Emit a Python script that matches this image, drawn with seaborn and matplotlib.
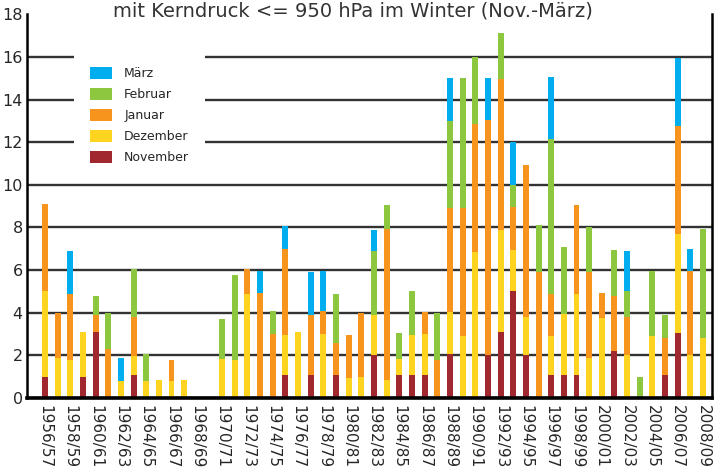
"""
Orkantiefs mit Kerndruck <= 950 hPa im Winter (Nov.-März), gestapelt nach Monat.
Erzeugt out.png (721x475).
"""

import matplotlib

matplotlib.use("Agg")

import matplotlib.pyplot as plt
import pandas as pd
import seaborn as sns
from matplotlib.patches import Patch

# --- Daten ---
SAISONS = [f"{y}/{str(y + 1)[-2:]}" for y in range(1956, 2009)]

NOVEMBER = [1.0, 0, 0, 1.0, 3.1, 0, 0, 1.1, 0, 0, 0, 0, 0, 0,
            0, 0, 0, 0, 0, 1.1, 0, 1.1, 0, 1.1, 0, 0, 2.0, 0, 1.1, 1.1,
            1.1, 0, 2.05, 0, 0, 2.0, 3.1, 5.0, 2.0, 0, 1.1, 1.1, 1.1, 0,
            0, 2.2, 0, 0, 0, 1.1, 3.05, 0, 0]
DEZEMBER = [4.0, 1.9, 1.8, 2.1, 0, 0, 0.8, 0.85, 0.8, 0.85, 0.8, 0.85, 0, 0,
            1.85, 1.8, 4.9, 0, 0, 1.85, 3.1, 0, 3.0, 0, 0.95, 1.0, 1.9, 0.85, 0.75, 1.85,
            1.9, 0, 2.0, 2.9, 6.85, 0, 4.8, 1.95, 1.8, 0, 1.8, 2.85, 3.8, 1.9,
            3.75, 0, 2.0, 0, 2.9, 0, 4.65, 2.0, 2.8]
JANUAR = [4.1, 2.1, 3.1, 0, 0.8, 2.3, 0, 1.85, 0, 0, 1.0, 0, 0, 0,
          0, 0, 1.15, 4.95, 3.0, 4.05, 0, 2.8, 1.1, 1.5, 2.0, 3.0, 0, 7.1, 0, 0,
          1.05, 1.8, 4.85, 6.0, 6.0, 11.05, 7.05, 2.0, 7.15, 5.9, 2.0, 0, 4.15, 4.0,
          1.2, 2.6, 1.8, 0, 0, 1.7, 5.05, 3.95, 0]
FEBRUAR = [0, 0, 0, 0, 0.9, 1.7, 0, 2.25, 1.25, 0, 0, 0, 0, 0,
           1.85, 3.95, 0, 0, 1.1, 0, 0, 0, 0, 2.3, 0, 0, 3.0, 1.1, 1.2, 2.05,
           0, 2.2, 4.1, 6.1, 3.15, 0, 2.15, 1.05, 0, 2.2, 7.25, 3.15, 0, 2.1,
           0, 2.15, 1.2, 1.0, 3.05, 1.1, 0, 0, 5.15]
MAERZ = [0, 0, 2.0, 0, 0, 0, 1.1, 0, 0, 0, 0, 0, 0, 0,
         0, 0, 0, 1.0, 0, 1.05, 0, 2.0, 1.85, 0, 0, 0, 1.0, 0, 0, 0,
         0, 0, 2.0, 0, 0, 1.95, 0, 2.0, 0, 0, 2.9, 0, 0, 0,
         0, 0, 1.9, 0, 0, 0, 3.2, 1.05, 0]

# Reihenfolge von oben nach unten (seaborn stapelt die letzte Stufe zuunterst)
MONATE = ["März", "Februar", "Januar", "Dezember", "November"]
FARBEN = {
    "März": "#00AEEF",
    "Februar": "#8DC63F",
    "Januar": "#F7941E",
    "Dezember": "#FFD420",
    "November": "#A0282E",
}

TITEL = "mit Kerndruck <= 950 hPa im Winter (Nov.-März)"

sns.set_theme(style="white")
plt.rcParams["font.family"] = ["DejaVu Sans"]


def _daten_long() -> pd.DataFrame:
    werte = {
        "November": NOVEMBER,
        "Dezember": DEZEMBER,
        "Januar": JANUAR,
        "Februar": FEBRUAR,
        "März": MAERZ,
    }
    zeilen = []
    for monat, reihe in werte.items():
        for i, v in enumerate(reihe):
            zeilen.append({"saison": i, "monat": monat, "anzahl": v})
    return pd.DataFrame(zeilen)


def main() -> None:
    df = _daten_long()

    fig = plt.figure(figsize=(7.21, 4.75), dpi=100)
    ax = fig.add_axes([0.0374, 0.162, 0.950, 0.808])

    sns.histplot(
        data=df,
        x="saison",
        weights="anzahl",
        hue="monat",
        hue_order=MONATE,
        palette=FARBEN,
        multiple="stack",
        discrete=True,
        shrink=0.47,
        linewidth=0,
        alpha=1,
        legend=False,
        ax=ax,
    )

    ax.set_xlim(-1.42, 52.7)
    ax.set_ylim(0, 18)
    ax.set_yticks(range(0, 19, 2))
    ax.set_xticks(range(0, len(SAISONS), 2))
    ax.set_xticklabels(SAISONS[::2], rotation=-90, fontsize=11, va="top", ha="center")
    ax.tick_params(axis="y", labelsize=11.5, length=0, pad=3)
    ax.tick_params(axis="x", length=0, pad=5)
    ax.set_xlabel("")
    ax.set_ylabel("")

    # Gitterlinien hinter den Balken, keine Linie bei 18
    ax.set_axisbelow(True)
    ax.yaxis.grid(True, color="#333333", linewidth=1.7)
    ax.get_ygridlines()[-1].set_visible(False)

    ax.spines["top"].set_visible(False)
    ax.spines["bottom"].set_linewidth(2.6)
    ax.spines["left"].set_linewidth(1.8)
    ax.spines["right"].set_linewidth(1.8)
    for s in ("bottom", "left", "right"):
        ax.spines[s].set_color("black")

    handles = [Patch(facecolor=FARBEN[m], edgecolor="none", label=m) for m in MONATE]
    leg = ax.legend(
        handles=handles,
        loc="upper left",
        bbox_to_anchor=(0.069, 0.905),
        fontsize=9,
        frameon=True,
        facecolor="white",
        edgecolor="none",
        framealpha=1,
        fancybox=False,
        handlelength=1.7,
        handleheight=1.1,
        labelspacing=0.62,
        handletextpad=1.0,
        borderpad=1.3,
        borderaxespad=0,
    )
    leg.set_zorder(5)

    # Titel oben, knapp über der Achse
    fig.text(0.49, 0.966, TITEL, ha="center", va="baseline", fontsize=14, color="#333333")

    fig.savefig("out.png", dpi=100, facecolor="white")
    plt.close(fig)


if __name__ == "__main__":
    main()
